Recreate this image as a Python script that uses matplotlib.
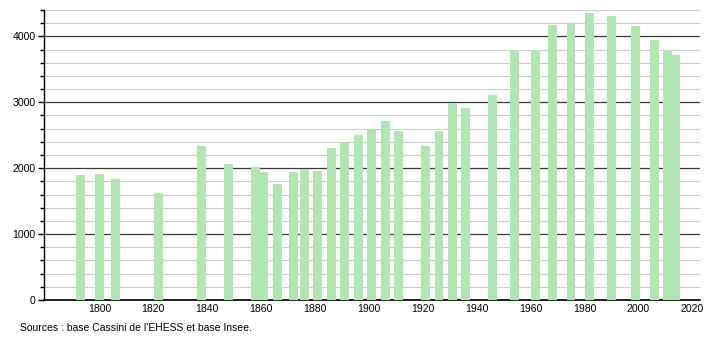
import matplotlib
matplotlib.use("Agg")
import matplotlib.pyplot as plt
from matplotlib.ticker import MultipleLocator

years = [1793, 1800, 1806, 1822, 1838, 1848, 1858, 1861, 1866, 1872, 1876, 1881,
         1886, 1891, 1896, 1901, 1906, 1911, 1921, 1926, 1931, 1936, 1946, 1954,
         1962, 1968, 1975, 1982, 1990, 1999, 2006, 2011, 2014]
population = [1903, 1918, 1842, 1629, 2329, 2070, 2024, 1948, 1766, 1948, 1994, 1963,
              2313, 2394, 2496, 2598, 2709, 2557, 2344, 2557, 2983, 2907, 3105, 3790,
              3790, 4170, 4190, 4353, 4307, 4155, 3942, 3790, 3714]
x_ticks = [1800, 1820, 1840, 1860, 1880, 1900, 1920, 1940, 1960, 1980, 2000, 2020]
source_text = "Sources : base Cassini de l'EHESS et base Insee."

plt.rcParams['font.family'] = ['Liberation Sans', 'DejaVu Sans']

fig = plt.figure(figsize=(7.1, 3.4), dpi=100)
ax = fig.add_axes([44 / 710, 40 / 340, 656 / 710, 290 / 340])

ax.bar(years, population, width=3.3, color='#b3e4b3', zorder=3, linewidth=0)

ax.set_xlim(1779.4, 2022.9)
ax.set_ylim(0, 4400)

ax.yaxis.set_major_locator(MultipleLocator(1000))
ax.yaxis.set_minor_locator(MultipleLocator(200))
ax.set_xticks(x_ticks)

ax.grid(which='minor', axis='y', color='#cccccc', linewidth=0.8, zorder=1)
ax.grid(which='major', axis='y', color='#3a3a3a', linewidth=0.9, zorder=2)
ax.grid(axis='x', visible=False)

for s in ['top', 'right']:
    ax.spines[s].set_visible(False)
ax.spines['left'].set_linewidth(1.0)
ax.spines['bottom'].set_linewidth(1.2)

ax.tick_params(axis='y', which='major', length=4, width=1, labelsize=7.6, pad=2)
ax.tick_params(axis='y', which='minor', length=3, width=1)
ax.tick_params(axis='x', length=0, labelsize=7.6, pad=3)

fig.text(20 / 710, 1 - 328 / 340, source_text, fontsize=7.5, va='center', ha='left')

fig.savefig("out.png", dpi=100)
